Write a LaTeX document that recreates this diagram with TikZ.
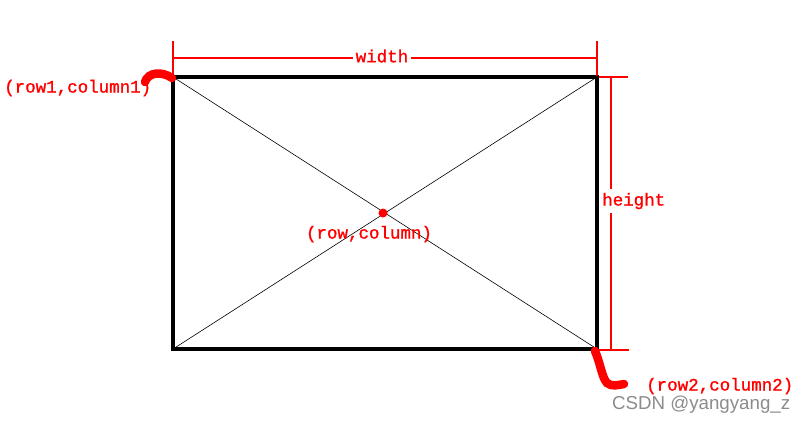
\documentclass[tikz,border=0pt]{standalone}
\usepackage{fontspec}
\setmainfont{Liberation Mono}[FakeBold=1.2]
\newfontfamily\wmfont{Liberation Sans}
\begin{document}
\begin{tikzpicture}[x=1pt,y=-1pt,
  lbl/.style={text=red, font=\fontsize{17.5}{18}\selectfont, inner sep=0pt},
  dim/.style={red, line width=1.1pt},
  curl/.style={red, line width=8.5pt, line cap=round}]
\useasboundingbox[fill=white] (0,0) rectangle (803,424);
% corners
\coordinate (tl) at (173,77);
\coordinate (tr) at (597,77);
\coordinate (br) at (597,349);
\coordinate (bl) at (173,349);
% diagonals
\draw[black, line width=0.6pt] (tl) -- (br);
\draw[black, line width=0.6pt] (tr) -- (bl);
% rectangle
\draw[black, line width=4.5pt] (tl) rectangle (br);
% centre
\fill[red] (383,213) circle (4.5);
\node[lbl] (c) at (369,234) {(row,column)};
% width dimension
\coordinate (wl0) at (173,41);
\coordinate (wl1) at (173,76);
\coordinate (wr0) at (597,41);
\coordinate (wr1) at (597,76);
\draw[dim] (wl0) -- (wl1);
\draw[dim] (wr0) -- (wr1);
\node[lbl, inner xsep=3pt] (w) at (382,56) {width};
\coordinate (wa) at (173,58);
\coordinate (wb) at (597,58);
\draw[dim] (wa) -- (wa -| w.west);
\draw[dim] (wb -| w.east) -- (wb);
% height dimension
\coordinate (ht0) at (599,77);
\coordinate (ht1) at (628,77);
\coordinate (hb0) at (599,350);
\coordinate (hb1) at (629,350);
\draw[dim] (ht0) -- (ht1);
\draw[dim] (hb0) -- (hb1);
\node[lbl, anchor=west, fill=white, inner sep=1pt] (h) at (601,201) {height};
\draw[dim] (611,77) -- (611,189);
\draw[dim] (611,213) -- (611,350);
% corner labels
\node[lbl, anchor=west] (p1) at (4,88) {(row1,column1)};
\node[lbl, anchor=west] (p2) at (646,386) {(row2,column2)};
% curls
\draw[curl] (145,82) .. controls (148,72) and (162,71) .. (172,78);
\draw[curl] (595,351) .. controls (600,362) and (602,378) .. (607,383) .. controls (612,387) and (618,385) .. (624,384);
% watermark
\node[text=black!45, font=\wmfont\fontsize{18.7}{20}\selectfont, anchor=west, inner sep=0pt] (wm) at (612,405) {CSDN @yangyang\_z};
\end{tikzpicture}
\end{document}
